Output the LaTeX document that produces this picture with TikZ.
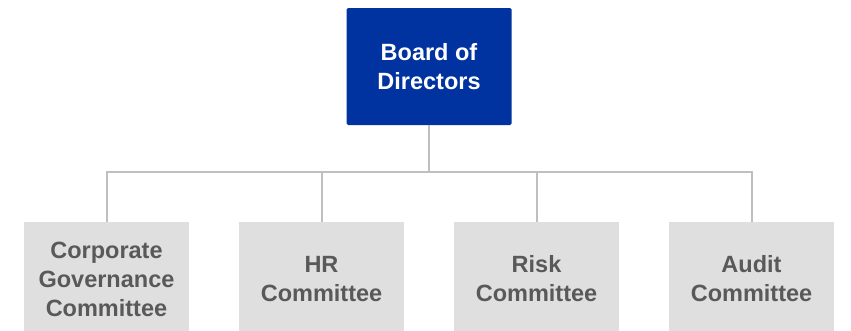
\documentclass[tikz,border=0pt]{standalone}
\usepackage{fontspec}
\setmainfont{Liberation Sans}
\usetikzlibrary{positioning}
\definecolor{boardblue}{RGB}{0,51,160}
\definecolor{cttgray}{RGB}{222,223,222}
\definecolor{cttext}{RGB}{89,89,89}
\definecolor{linegray}{RGB}{191,191,191}
\tikzset {
    x=1pt, y=1pt,
    node distance=215pt,
    every node/.style={align=center, font=\fontsize{23.5}{29}\selectfont\bfseries},
    board/.style={rectangle, rounded corners=1.5pt, fill=boardblue, text=white,
        minimum width=165pt, minimum height=117pt},
    committee/.style={rectangle, fill=cttgray, text=cttext,
        minimum width=165pt, minimum height=114pt},
    link/.style={draw=linegray, line width=2pt}
}

\begin{document}
\begin{tikzpicture}
                \useasboundingbox (0,0) rectangle (851,-330);
                \node[board] (bod) at (429,-66.5) {Board of\\Directors};
                \node[committee] (cgc) at (106.5,-279) {Corporate\\Governance\\Committee};
                \node[committee, right of=cgc] (hrc) {HR\\Committee};
                \node[committee, right of=hrc] (risk) {Risk\\Committee};
                \node[committee, right of=risk] (audit) {Audit\\Committee};
                \coordinate[below=47pt of bod.south] (bus);

                \draw[link] (bod.south) -- (bus);
                \foreach \c in {cgc, hrc, risk, audit}
                    \draw[link] (bus) -| (\c.north);
            \end{tikzpicture}
\end{document}
